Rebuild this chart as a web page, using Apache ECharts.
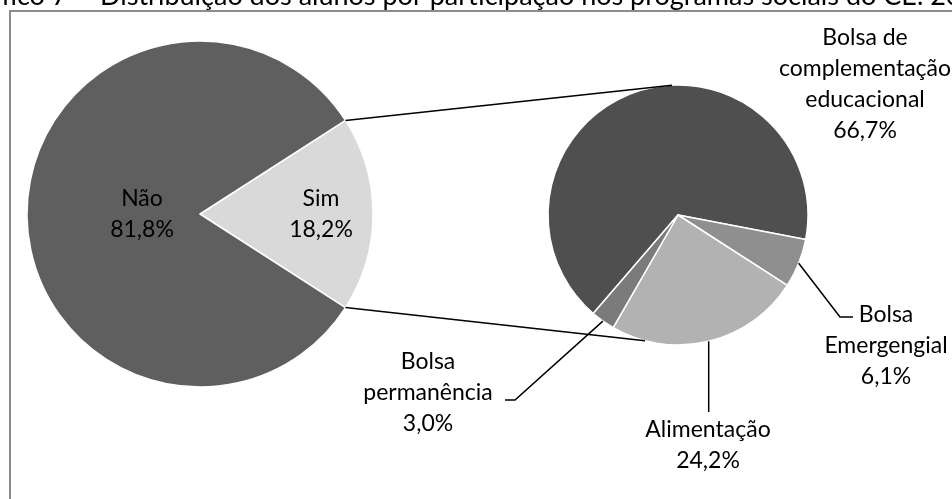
<!DOCTYPE html>
<html>
<head>
<meta charset="utf-8">
<script src="https://cdn.jsdelivr.net/npm/echarts@6/dist/echarts.min.js"></script>
<style>
html,body{margin:0;padding:0;background:#fff;}
#c{width:952px;height:499px;}
</style>
</head>
<body>
<div id="c"></div>
<script>
// ---- data ----
const mainCategories = ['Sim', 'Não'];
const mainValues = [18.2, 81.8];
const subCategories = ['Bolsa de\ncomplementação\neducacional', 'Bolsa\nEmergengial', 'Alimentação', 'Bolsa\npermanência'];
const subValues = [66.7, 6.1, 24.2, 3.0];
const titleLeft = 'Gráfico 7 –';
const titleRight = 'Distribuição dos alunos por participação nos programas sociais do CE. 2019';

// ---- style / layout ----
const mainColors = ['#d9d9d9', '#5f5f5f'];
const subColors = ['#4f4f4f', '#8f8f8f', '#b2b2b2', '#7b7b7b'];
const FONT = 'Lato';
const FS = 23;
const LH = 31;
const L = { cx: 200, cy: 214, r: 173 };
const R = { cx: 678, cy: 215, r: 130 };
const subStart = 229.3;
const mainStart = mainValues[0] / 100 * 180;
const mainLabelPos = [[321, 214], [142, 214]];
const subLabelPos = [[865, 84], [886, 346], [708, 445], [428, 393]];

function fmt(v) { return v.toFixed(1).replace('.', ',') + '%'; }
function pt(c, deg, r) {
  const a = deg * Math.PI / 180;
  return [c.cx + (r || c.r) * Math.cos(a), c.cy - (r || c.r) * Math.sin(a)];
}
function midAngle(values, start, i) {
  const total = values.reduce((a, b) => a + b, 0);
  let s = start;
  for (let k = 0; k < i; k++) s -= values[k] / total * 360;
  return s - values[i] / total * 180;
}

const chart = echarts.init(document.getElementById('c'), null, { renderer: 'canvas', width: 952, height: 499 });

// leader lines derived from slice mid angles
const aEm = pt(R, midAngle(subValues, subStart, 1));
const aAl = pt(R, midAngle(subValues, subStart, 2));
const aPe = pt(R, midAngle(subValues, subStart, 3));
const simUp = pt(L, mainStart);
const simDn = pt(L, -mainStart);
const rUp = pt(R, 92.6);
const rDn = pt(R, -104.7);
const lineStyle = { stroke: '#000', lineWidth: 1.5, fill: null };

const graphics = [
  { type: 'rect', shape: { x: 10, y: 11, width: 1000, height: 1000 }, style: { stroke: '#8c8c8c', lineWidth: 2, fill: null }, silent: true },
  { type: 'text', x: 90, y: -4, style: { text: titleLeft, fontFamily: FONT, fontSize: 27, fill: '#000', align: 'right', verticalAlign: 'middle' } },
  { type: 'text', x: 100, y: -4, style: { text: titleRight, fontFamily: FONT, fontSize: 27, fill: '#000', align: 'left', verticalAlign: 'middle' } },
  { type: 'polyline', shape: { points: [simUp, rUp] }, style: lineStyle, z: 10 },
  { type: 'polyline', shape: { points: [simDn, rDn] }, style: lineStyle, z: 10 },
  { type: 'polyline', shape: { points: [aEm, [840, 317], [853, 317]] }, style: lineStyle, z: 10 },
  { type: 'polyline', shape: { points: [aAl, [aAl[0], 412]] }, style: lineStyle, z: 10 },
  { type: 'polyline', shape: { points: [aPe, [515, 400], [505, 400]] }, style: lineStyle, z: 10 }
];

const option = {
  backgroundColor: '#fff',
  animation: false,
  graphic: graphics,
  series: [
    {
      type: 'pie',
      center: [L.cx, L.cy],
      radius: L.r,
      startAngle: mainStart,
      clockwise: true,
      avoidLabelOverlap: false,
      z: 2,
      itemStyle: { borderColor: '#fff', borderWidth: 1.5 },
      label: {
        show: true, position: 'inside', color: '#000', fontFamily: FONT, fontSize: FS, lineHeight: LH,
        formatter: p => p.name + '\n' + fmt(p.value)
      },
      labelLine: { show: false },
      labelLayout: p => ({ x: mainLabelPos[p.dataIndex][0], y: mainLabelPos[p.dataIndex][1], align: 'center', verticalAlign: 'middle' }),
      emphasis: { disabled: true },
      data: mainCategories.map((n, i) => ({ name: n, value: mainValues[i], itemStyle: { color: mainColors[i] } }))
    },
    {
      type: 'pie',
      center: [R.cx, R.cy],
      radius: R.r,
      startAngle: subStart,
      clockwise: true,
      avoidLabelOverlap: false,
      z: 2,
      itemStyle: { borderColor: '#fff', borderWidth: 1.5 },
      label: {
        show: true, position: 'outside', color: '#000', fontFamily: FONT, fontSize: FS, lineHeight: LH, align: 'center',
        formatter: p => p.name + '\n' + fmt(p.value)
      },
      labelLine: { show: false },
      labelLayout: p => ({ x: subLabelPos[p.dataIndex][0], y: subLabelPos[p.dataIndex][1], align: 'center', verticalAlign: 'middle' }),
      emphasis: { disabled: true },
      data: subCategories.map((n, i) => ({ name: n, value: subValues[i], itemStyle: { color: subColors[i] } }))
    }
  ]
};
chart.setOption(option);
</script>
</body>
</html>
